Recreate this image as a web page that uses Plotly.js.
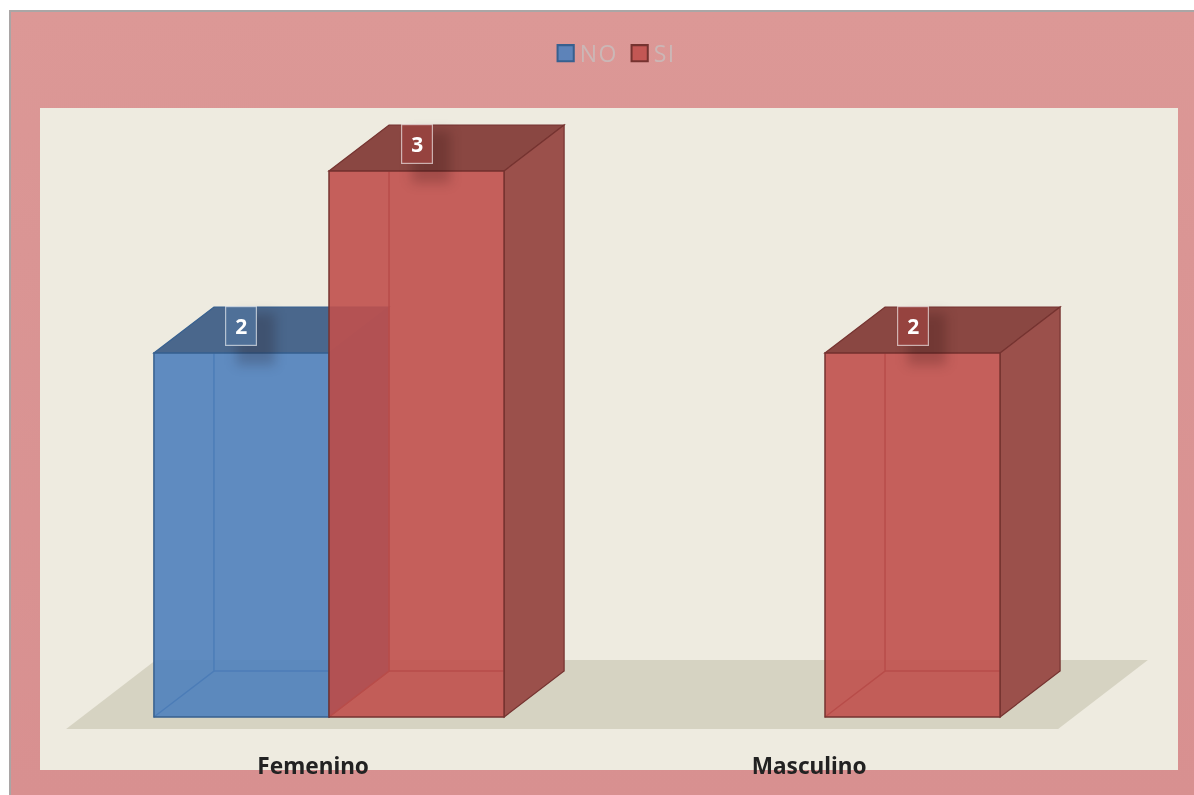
<!DOCTYPE html>
<html>
<head>
<meta charset="utf-8">
<script src="https://cdn.plot.ly/plotly-3.0.1.min.js"></script>
<style>
html,body{margin:0;padding:0;background:#fff;width:1194px;height:795px;overflow:hidden}
#panel{position:absolute;left:9px;top:10px;width:1185px;height:785px;box-sizing:border-box;
  border-left:2px solid #a9a5a5;border-top:2px solid #aaa6a6;
  background:linear-gradient(#dc9896,#da9594 30%,#d89090);filter:blur(.5px)}
#chart{position:absolute;left:0;top:0;width:1194px;height:795px;filter:blur(.7px)}
</style>
</head>
<body>
<div id="panel"></div>
<div id="chart"></div>
<script>
var categories = ['Femenino', 'Masculino'];
var categoryIndex = [0, 1];
var seriesNames = ['NO', 'SI'];
var noValues = [2, null];
var siValues = [3, 2];

var depthX = 0.121, depthY = 0.2527;
var bargap = 0.294;
var barW = (1 - bargap) / 2;
var labelShift = -0.032;

var styles = [
  {front:'rgba(79,129,189,0.9)', line:'#37608f', top:'#4a678c', side:'rgb(50,90,140)', box:'#4f7098', inner:'#2f5687'},
  {front:'rgba(192,80,77,0.9)', line:'#753330', top:'#8a4742', side:'#9b504b', box:'#96433f', inner:'#6f2b28'}
];

function poly(pts){
  return pts.map(function(p,i){return (i?'L':'M')+p[0]+','+p[1];}).join(' ')+' Z';
}
function open(pts){
  return pts.map(function(p,i){return (i?'L':'M')+p[0]+','+p[1];}).join(' ');
}

var shapes = [{
  type:'path', xref:'x', yref:'y', layer:'below',
  path: poly([[-0.530,-0.066],[1.470,-0.066],[1.651,0.313],[-0.349,0.313]]),
  fillcolor:'#d6d3c2', line:{width:0}
}];
var annotations = [];
var shadows = [];

[noValues, siValues].forEach(function(vals, s){
  vals.forEach(function(v, i){
    if (v === null) return;
    var st = styles[s];
    var xl = categoryIndex[i] + (s === 0 ? -barW : 0);
    var xr = xl + barW;
    shapes.push({type:'path', xref:'x', yref:'y', layer:'below',
      path: open([[xl,0],[xl+depthX,depthY],[xl+depthX,v+depthY]]), line:{color:st.inner,width:1.5}});
    shapes.push({type:'path', xref:'x', yref:'y', layer:'below',
      path: open([[xl+depthX,depthY],[xr+depthX,depthY]]), line:{color:st.inner,width:1.5}});
    shapes.push({type:'path', xref:'x', yref:'y', layer:'below',
      path: poly([[xl,v],[xr,v],[xr+depthX,v+depthY],[xl+depthX,v+depthY]]),
      fillcolor:st.top, line:{color:st.line,width:1.2}});
    shapes.push({type:'path', xref:'x', yref:'y', layer:'below',
      path: poly([[xr,v],[xr,0],[xr+depthX,depthY],[xr+depthX,v+depthY]]),
      fillcolor:st.side, line:{color:st.line,width:1.2}});
    var cx = (xl + xr) / 2;
    annotations.push({x:cx, y:v+0.15, xref:'x', yref:'y', text:String(v), showarrow:false,
      font:{family:'"Noto Sans", sans-serif', size:21, color:'#ffffff', weight:700},
      width:30, height:38, borderpad:0, borderwidth:1.2, bordercolor:'rgba(255,255,255,0.6)', bgcolor:st.box,
      align:'center', valign:'middle'});
    shadows.push({type:'rect', xref:'x', yref:'y', layer:'above',
      x0:cx-0.01, x1:cx+0.068, y0:v-0.066, y1:v+0.22,
      fillcolor:'rgba(20,0,0,0.2)', line:{width:0}});
  });
});
shapes = shapes.concat(shadows);

var traces = [
  {type:'bar', name:seriesNames[0], x:categoryIndex, y:noValues,
   marker:{color:styles[0].front, line:{color:styles[0].line, width:1.5}}, hoverinfo:'none'},
  {type:'bar', name:seriesNames[1], x:categoryIndex, y:siValues,
   marker:{color:styles[1].front, line:{color:styles[1].line, width:1.5}}, hoverinfo:'none'}
];

var layout = {
  width:1194, height:795,
  margin:{l:40, r:16, t:108, b:25, pad:0},
  paper_bgcolor:'rgba(0,0,0,0)',
  plot_bgcolor:'#eeebe0',
  barmode:'group', bargap:bargap, bargroupgap:0,
  showlegend:true,
  legend:{orientation:'h', xref:'container', yref:'container', x:0.457, xanchor:'left', y:0.933, yanchor:'middle',
    entrywidth:29, entrywidthmode:'pixels',
    bgcolor:'rgba(0,0,0,0)', font:{family:'"Open Sans", sans-serif', size:23, color:'#cbb7b6'}},
  xaxis:{range:[-0.5827,1.7117], tickmode:'array',
    tickvals:categoryIndex.map(function(c){return c+labelShift;}), ticktext:categories,
    showgrid:false, zeroline:false, showline:false, ticks:'', anchor:'free', position:0.03,
    tickfont:{family:'"Noto Sans", sans-serif', size:22.6, color:'#222222', weight:700}},
  yaxis:{range:[-0.2912,3.346], visible:false, showgrid:false, zeroline:false},
  shapes:shapes,
  annotations:annotations
};

Plotly.newPlot('chart', traces, layout, {displayModeBar:false, staticPlot:true}).then(function(){
  document.querySelectorAll('.layer-above .shapelayer path').forEach(function(p){
    p.style.filter = 'blur(6px)';
  });
  document.querySelectorAll('.legendpoints path').forEach(function(p){
    p.setAttribute('transform','translate(20,0) scale(1.35)');
  });
  document.querySelectorAll('.legendtext').forEach(function(t){
    t.setAttribute('x','34');
    t.style.letterSpacing = '1.5px';
  });
});
</script>
</body>
</html>
